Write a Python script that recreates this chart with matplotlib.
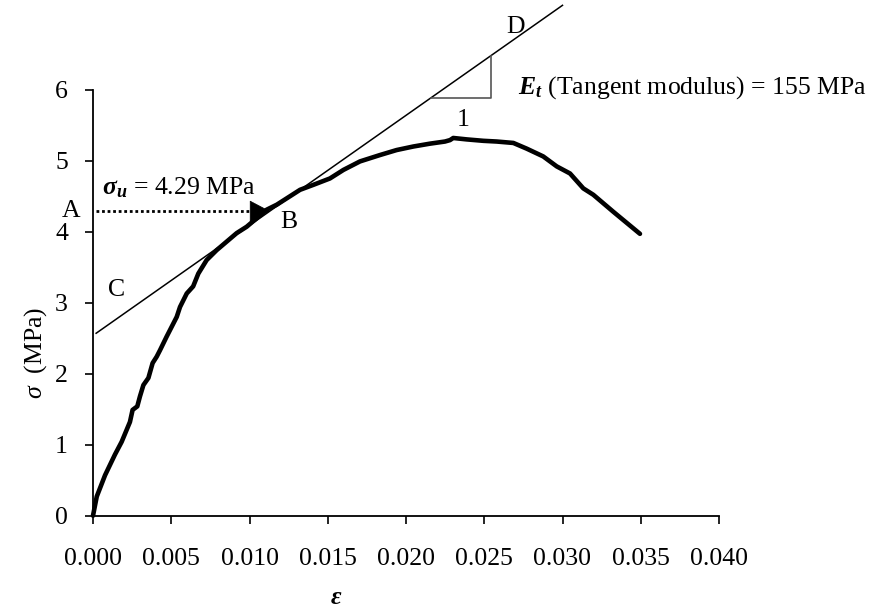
import matplotlib
matplotlib.use("Agg")
import matplotlib.pyplot as plt
import numpy as np

plt.rcParams["font.family"] = ["Liberation Serif", "DejaVu Serif"]
plt.rcParams["mathtext.fontset"] = "custom"
plt.rcParams["mathtext.rm"] = "Liberation Serif"
plt.rcParams["mathtext.it"] = "Liberation Serif:italic"
plt.rcParams["mathtext.bf"] = "Liberation Serif:bold"
plt.rcParams["mathtext.bfit"] = "Liberation Serif:italic:bold"

# Measured stress-strain response
strain = [0.0, 0.00024, 0.00077, 0.0014, 0.00183, 0.00236, 0.00253, 0.00283, 0.0030,
          0.00322, 0.00354, 0.00381, 0.00407, 0.00428, 0.0047, 0.00535, 0.00556,
          0.00599, 0.0064, 0.00673, 0.00726, 0.0079, 0.00854, 0.00918, 0.00982,
          0.01046, 0.0111, 0.01174, 0.01238, 0.01323, 0.01408, 0.01514, 0.0160,
          0.01706, 0.01834, 0.0194, 0.02047, 0.02153, 0.02249, 0.02281, 0.02302,
          0.02388, 0.02494, 0.02580, 0.02686, 0.02771, 0.02877, 0.02963, 0.03048,
          0.03133, 0.03197, 0.03325, 0.03495]
stress = [0.0, 0.27, 0.57, 0.86, 1.04, 1.32, 1.49, 1.54, 1.68,
          1.84, 1.94, 2.15, 2.24, 2.33, 2.52, 2.80, 2.94,
          3.13, 3.23, 3.41, 3.60, 3.74, 3.86, 3.98, 4.07,
          4.19, 4.31, 4.38, 4.47, 4.59, 4.66, 4.75, 4.87,
          4.99, 5.08, 5.15, 5.20, 5.24, 5.27, 5.29, 5.32,
          5.30, 5.28, 5.27, 5.25, 5.17, 5.06, 4.92, 4.82,
          4.61, 4.52, 4.28, 3.97]

# Key quantities
sigma_u = 4.29        # MPa, stress at point B
eps_B = 0.0113        # strain at point B
E_t = 155.0           # MPa, tangent modulus
tangent_range = [0.0002, 0.0300]
triangle_x = [0.0216, 0.0254]

x_ticks = [0.000, 0.005, 0.010, 0.015, 0.020, 0.025, 0.030, 0.035, 0.040]
y_ticks = [0, 1, 2, 3, 4, 5, 6]

fig = plt.figure(figsize=(8.82, 6.14), dpi=100)
ax = fig.add_axes([93 / 882, 1 - 515.7 / 614, (719 - 93) / 882, (515.7 - 89.7) / 614])

ax.plot(strain, stress, color="black", lw=3.3, solid_joinstyle="round",
        solid_capstyle="round", clip_on=False, zorder=4)

# Tangent line through B
def tangent(x):
    return sigma_u + E_t * (np.asarray(x) - eps_B)

ax.plot(tangent_range, tangent(tangent_range), color="black", lw=1.1,
        clip_on=False, zorder=3)

# Slope triangle
tx0, tx1 = triangle_x
ty0 = float(tangent(tx0))
ax.plot([tx0, tx1, tx1], [ty0, ty0, float(tangent(tx1))], color="#555555",
        lw=1.2, clip_on=False, zorder=3)

# Dotted line A -> B with arrowhead
ax.plot([0.0002, eps_B - 0.0008], [sigma_u, sigma_u], color="black", lw=2.0,
        linestyle=(0, (1, 1)), clip_on=False, zorder=3)
ax.annotate("", xy=(eps_B, sigma_u), xytext=(eps_B - 0.0009, sigma_u),
            arrowprops=dict(arrowstyle="-|>,head_length=0.8,head_width=0.42",
                            color="black", lw=0.5, shrinkA=0, shrinkB=0,
                            mutation_scale=17), zorder=5)

fs = 18.5
ax.text(0.00055, 4.52, r"$\mathbfit{\sigma_u}$ = 4.29 MPa", fontsize=fs,
        ha="left", va="baseline")
ax.text(-0.0014, sigma_u, "A", fontsize=fs, ha="center", va="center", clip_on=False)
ax.text(0.0125, 4.14, "B", fontsize=fs, ha="center", va="center")
ax.text(0.00153, 3.18, "C", fontsize=fs, ha="center", va="center")
ax.text(0.0270, 6.89, "D", fontsize=fs, ha="center", va="center")
ax.text(0.02367, 5.57, "1", fontsize=fs, ha="center", va="center")
ax.text(0.02718, 5.95, r"$\mathbfit{E_t}$ (Tangent modulus) = 155 MPa",
        fontsize=fs, ha="left", va="baseline")

ax.set_xlim(0, 0.040)
ax.set_ylim(0, 6)
ax.set_xticks(x_ticks)
ax.set_xticklabels([f"{v:.3f}" for v in x_ticks])
ax.set_yticks(y_ticks)
ax.set_yticklabels([str(v) for v in y_ticks])
ax.tick_params(axis="both", direction="out", length=6, width=1.2, labelsize=fs)
ax.tick_params(axis="x", pad=17)
ax.tick_params(axis="y", pad=12)

for side in ("top", "right"):
    ax.spines[side].set_visible(False)
for side in ("left", "bottom"):
    ax.spines[side].set_linewidth(1.3)

fig.text(336 / 882, 1 - 598 / 614, "ε", fontsize=fs, fontweight="bold",
         fontstyle="italic", ha="center", va="center")
fig.text(36 / 882, 1 - 353 / 614, r"$\sigma$  (MPa)", fontsize=fs,
         rotation=90, ha="center", va="center")

fig.savefig("out.png", dpi=100)
